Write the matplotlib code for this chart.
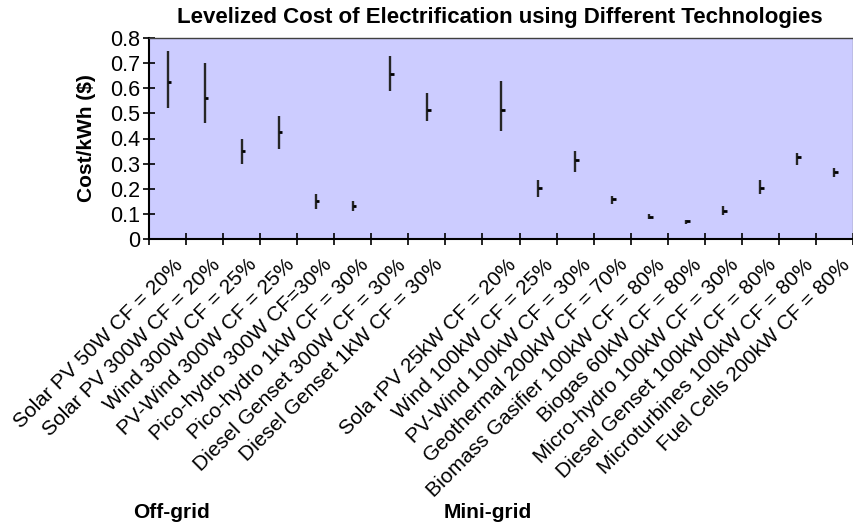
import matplotlib
matplotlib.use("Agg")
import matplotlib.pyplot as plt
import matplotlib.transforms as mtransforms
import numpy as np

plt.rcParams['font.family'] = ['Liberation Sans', 'DejaVu Sans']

categories = [
    "Solar PV 50W CF = 20%", "Solar PV 300W CF = 20%", "Wind 300W CF = 25%",
    "PV-Wind 300W CF = 25%", "Pico-hydro 300W CF=30%", "Pico-hydro 1kW CF = 30%",
    "Diesel Genset 300W CF = 30%", "Diesel Genset 1kW CF = 30%", "",
    "Sola rPV 25kW CF = 20%", "Wind 100kW CF = 25%", "PV-Wind 100kW CF = 30%",
    "Geothermal 200kW CF = 70%", "Biomass Gasifier 100kW CF = 80%",
    "Biogas 60kW CF = 80%", "Micro-hydro 100kW CF = 30%",
    "Diesel Genset 100kW CF = 80%", "Microturbines 100kW CF = 80%",
    "Fuel Cells 200kW CF = 80%",
]
high = [0.75, 0.70, 0.40, 0.49, 0.18, 0.15, 0.73, 0.58, None,
        0.63, 0.235, 0.35, 0.17, 0.10, 0.077, 0.133, 0.235, 0.344, 0.282]
low = [0.52, 0.46, 0.30, 0.36, 0.12, 0.11, 0.59, 0.47, None,
       0.43, 0.166, 0.268, 0.139, 0.078, 0.058, 0.097, 0.178, 0.296, 0.248]
close = [0.623, 0.563, 0.352, 0.424, 0.151, 0.133, 0.656, 0.513, None,
         0.514, 0.204, 0.315, 0.158, 0.089, 0.070, 0.113, 0.202, 0.325, 0.268]
group_labels = ["Off-grid", "Mini-grid"]
yticks = [0, 0.1, 0.2, 0.3, 0.4, 0.5, 0.6, 0.7, 0.8]
ytick_labels = ['0', '0.1', '0.2', '0.3', '0.4', '0.5', '0.6', '0.7', '0.8']

fig = plt.figure(figsize=(8.54, 5.25), dpi=100)
ax = fig.add_axes([149/854, 1-239/525, (853-149)/854, (239-38)/525])
ax.set_facecolor('#CCCCFF')

n = len(categories)
for i in range(n):
    if high[i] is None:
        continue
    ax.vlines(i, low[i], high[i], color='#262626', lw=1.7)
    ax.hlines(close[i], i, i + 0.1, color='black', lw=2.0)

ax.set_xlim(-0.5, n - 0.5)
ax.set_ylim(0, 0.8)
ax.set_yticks(yticks)
ax.set_yticklabels(ytick_labels, fontsize=15.5)
ax.set_xticks(np.arange(-0.5, n, 1.0))
ax.set_xticklabels([])
ax.set_xticks(np.arange(n), minor=True)
ax.set_xticklabels(categories, minor=True, rotation=45, ha='right', va='center',
                   rotation_mode='anchor', fontsize=15)
ax.tick_params(axis='x', which='minor', length=0, pad=0)
ax.tick_params(axis='x', which='major', length=8.5, width=1.2, direction='inout')
ax.tick_params(axis='y', length=8.5, width=1.2, direction='inout', pad=2)
offset = mtransforms.ScaledTranslation(12.5/100, -23/100, fig.dpi_scale_trans)
for lab in ax.get_xticklabels(minor=True):
    lab.set_transform(lab.get_transform() + offset)

for s in ['left', 'bottom']:
    ax.spines[s].set_linewidth(1.5)
    ax.spines[s].set_color('black')
ax.spines['top'].set_linewidth(1.0)
ax.spines['top'].set_color('#404040')
ax.spines['right'].set_linewidth(1.0)
ax.spines['right'].set_color('#808080')

ax.set_ylabel('Cost/kWh ($)', fontsize=15, fontweight='bold', labelpad=10)
fig.suptitle('Levelized Cost of Electrification using Different Technologies',
             x=500/854, y=1-18/525, va='center', fontsize=16, fontweight='bold')

fig.text(172/854, 1-513/525, group_labels[0], ha='center', va='center',
         fontsize=15, fontweight='bold')
fig.text(488/854, 1-513/525, group_labels[1], ha='center', va='center',
         fontsize=15, fontweight='bold')

fig.savefig('out.png', dpi=100)
